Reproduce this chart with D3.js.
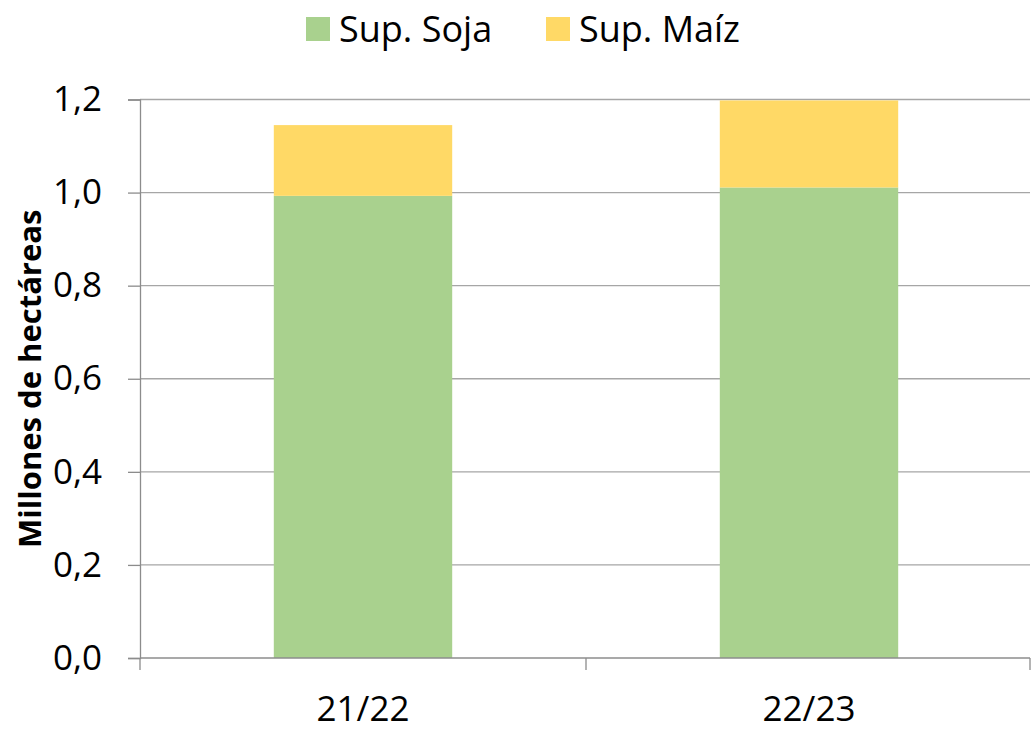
<!DOCTYPE html>
<html><head><meta charset="utf-8">
<script src="https://cdn.jsdelivr.net/npm/d3@7"></script>
<style>body{margin:0;background:#fff}svg{display:block}</style>
</head><body>
<script>
const categories = ["21/22", "22/23"];
const seriesNames = ["Sup. Soja", "Sup. Maíz"];
const soja = [0.993, 1.011];
const maiz = [0.152, 0.187];
const yTicks = [0, 0.2, 0.4, 0.6, 0.8, 1.0, 1.2];
const colors = ["#a9d18e", "#ffd966"];

const W = 1031, H = 731;
const m = {left: 140, right: 1030, top: 99.5, bottom: 658};
const font = "'Open Sans', 'Noto Sans', sans-serif";

const svg = d3.select("body").append("svg").attr("width", W).attr("height", H);

const x = d3.scaleBand().domain(categories).range([m.left, m.right + 2]).paddingInner(0.6).paddingOuter(0.3);
const xb = d3.scaleBand().domain(categories).range([m.left, m.right + 2]);
const y = d3.scaleLinear().domain([0, 1.2]).range([m.bottom, m.top]);

// gridlines
svg.append("g").selectAll("line").data(yTicks.filter(d => d > 0)).join("line")
  .attr("x1", m.left).attr("x2", m.right)
  .attr("y1", d => y(d)).attr("y2", d => y(d))
  .attr("stroke", "#a6a6a6").attr("stroke-width", 1.3);

// bars
const data = categories.map((c, i) => ({cat: c, soja: soja[i], maiz: maiz[i]}));
const stack = d3.stack().keys(["soja", "maiz"])(data);
svg.append("g").selectAll("g").data(stack).join("g")
  .attr("fill", (d, i) => colors[i])
  .selectAll("rect").data(d => d).join("rect")
  .attr("x", d => x(d.data.cat))
  .attr("width", x.bandwidth())
  .attr("y", d => y(d[1]))
  .attr("height", d => y(d[0]) - y(d[1]));

// y axis
const yAxis = d3.axisLeft(y).tickValues(yTicks).tickSize(12).tickPadding(26)
  .tickFormat(d => d3.format(".1f")(d).replace(".", ","));
const gy = svg.append("g").attr("transform", `translate(${m.left},0)`).call(yAxis);
gy.select(".domain").attr("stroke", "#8c8c8c").attr("stroke-width", 1.3);
gy.selectAll(".tick line").attr("stroke", "#8c8c8c").attr("stroke-width", 1.3);
gy.selectAll("text").attr("font-family", font).attr("font-size", 35).attr("fill", "#000");

// x axis line + ticks at band boundaries
svg.append("line").attr("x1", m.left).attr("x2", m.right).attr("y1", m.bottom).attr("y2", m.bottom)
  .attr("stroke", "#8c8c8c").attr("stroke-width", 1.3);
const bounds = [xb(categories[0]), xb(categories[1]), m.right];
svg.append("g").selectAll("line").data(bounds).join("line")
  .attr("x1", d => d).attr("x2", d => d).attr("y1", m.bottom).attr("y2", m.bottom + 12)
  .attr("stroke", "#8c8c8c").attr("stroke-width", 1.3);
svg.append("g").selectAll("text").data(categories).join("text")
  .attr("x", d => xb(d) + xb.bandwidth() / 2).attr("y", 721)
  .attr("text-anchor", "middle").attr("font-family", font).attr("font-size", 35)
  .text(d => d);

// y title
svg.append("text").attr("transform", `translate(41,${(m.top + m.bottom) / 2}) rotate(-90)`)
  .attr("text-anchor", "middle").attr("font-family", font).attr("font-weight", "bold")
  .attr("font-size", 31).text("Millones de hectáreas");

// legend
const legX = [306, 546];
const lg = svg.append("g").selectAll("g").data(seriesNames).join("g")
  .attr("transform", (d, i) => `translate(${legX[i]},17)`);
lg.append("rect").attr("width", 24).attr("height", 24).attr("fill", (d, i) => colors[i]);
lg.append("text").attr("x", 33).attr("y", 25).attr("font-family", font).attr("font-size", 36)
  .text(d => d);
</script>
</body></html>
